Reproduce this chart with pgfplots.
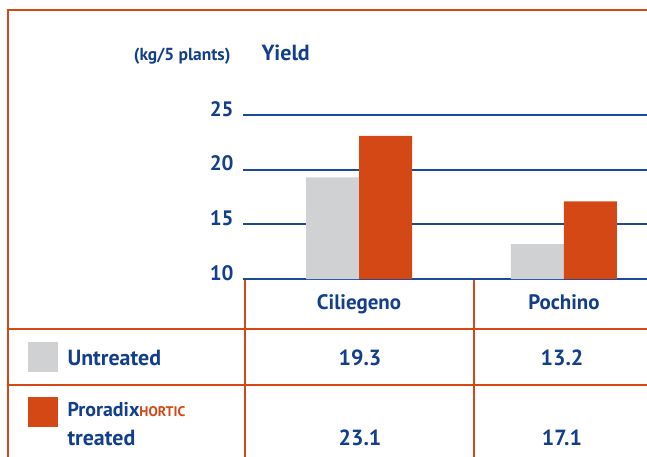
\documentclass[border=0pt]{standalone}
\usepackage{pgfplots}
\pgfplotsset{compat=1.18}
\usepackage{fontspec}
\setmainfont{PT Sans}
\definecolor{cblue}{HTML}{123E8C}
\definecolor{gblue}{HTML}{1A4A9A}
\definecolor{corange}{HTML}{D44816}
\definecolor{cgray}{HTML}{D0D1D3}
\begin{document}
\begin{tikzpicture}
\path[use as bounding box] (0,0) rectangle (647bp,-457bp);
% frame and table lines
\draw[corange, line width=1.5bp] (8bp,-457bp) -- (8bp,-10bp) -- (647bp,-10bp);
\draw[corange, line width=1.5bp] (8bp,-329bp) -- (647bp,-329bp);
\draw[corange, line width=1.5bp] (8bp,-385bp) -- (647bp,-385bp);
\draw[corange, line width=1.5bp] (245bp,-280bp) -- (245bp,-457bp);
\draw[corange, line width=1.5bp] (474bp,-280bp) -- (474bp,-457bp);
\begin{axis}[at={(243bp,-279bp)}, anchor=south west, scale only axis,
  width=404bp, height=164bp,
  ybar=0pt, bar width=53bp,
  xmin=-0.566, xmax=1.405, ymin=10, ymax=25,
  ytick={10,15,20,25}, yticklabels={10,15,20,25},
  xtick={0,1}, xticklabels={Ciliegeno,Pochino},
  axis line style={draw=none}, major tick length=0pt,
  ymajorgrids, grid style={gblue, line width=1.8bp},
  clip=false,
  yticklabel style={font=\bfseries\fontsize{21}{21}\selectfont, text=cblue, xshift=-6bp, yshift=6bp},
  xticklabel style={font=\bfseries\fontsize{21}{21}\selectfont, text=cblue, yshift=-12bp},
]
\addplot[fill=cgray, draw=none] coordinates {(0,19.3) (1,13.2)};
\addplot[fill=corange, draw=none] coordinates {(0,23.1) (1,17.1)};
\end{axis}
\node[anchor=east, text=cblue, font=\bfseries\fontsize{17.5}{17.5}\selectfont] at (234bp,-56bp) {(kg/5 plants)};
\node[anchor=west, text=cblue, font=\bfseries\fontsize{22}{22}\selectfont] at (258bp,-53bp) {Yield};
% legend
\fill[cgray] (28bp,-342bp) rectangle (58bp,-372bp);
\fill[corange] (28bp,-397bp) rectangle (58bp,-427bp);
\node[anchor=west, text=cblue, font=\bfseries\fontsize{22}{22}\selectfont] at (64bp,-358bp) {Untreated};
\node[anchor=west, text=cblue, font=\bfseries\fontsize{20}{20}\selectfont] at (64bp,-410bp) {Proradix{\color{corange}\fontsize{14}{14}\selectfont HORTIC}};
\node[anchor=west, text=cblue, font=\bfseries\fontsize{22}{22}\selectfont] at (64bp,-438bp) {treated};
% values
\node[text=cblue, font=\bfseries\fontsize{22}{22}\selectfont] at (360bp,-358bp) {19.3};
\node[text=cblue, font=\bfseries\fontsize{22}{22}\selectfont] at (562bp,-358bp) {13.2};
\node[text=cblue, font=\bfseries\fontsize{22}{22}\selectfont] at (360bp,-438bp) {23.1};
\node[text=cblue, font=\bfseries\fontsize{22}{22}\selectfont] at (562bp,-438bp) {17.1};
\end{tikzpicture}
\end{document}
